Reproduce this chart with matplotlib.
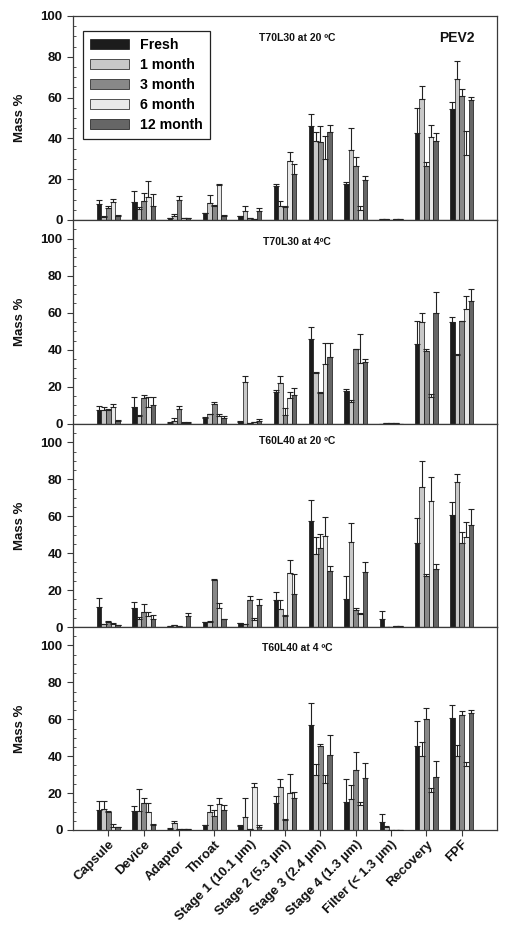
import matplotlib
matplotlib.use("Agg")
import matplotlib.pyplot as plt
from matplotlib.ticker import MultipleLocator
import numpy as np

plt.rcParams['font.family'] = ['Liberation Sans', 'DejaVu Sans']
plt.rcParams['font.weight'] = 'bold'

categories = ["Capsule", "Device", "Adaptor", "Throat", "Stage 1 (10.1 µm)",
              "Stage 2 (5.3 µm)", "Stage 3 (2.4 µm)", "Stage 4 (1.3 µm)",
              "Filter (< 1.3 µm)", "Recovery", "FPF"]
series = ["Fresh", "1 month", "3 month", "6 month", "12 month"]
colors = ["#1c1c1c", "#c8c8c8", "#888888", "#e8e8e8", "#666666"]

panel_titles = ["T70L30 at 20 ºC", "T70L30 at 4ºC", "T60L40 at 20 ºC", "T60L40 at 4 ºC"]

# Panel 1: T70L30 at 20 ºC
p1_mean = [
    [7.7, 9.0, 1.0, 3.3, 1.8, 16.8, 46.1, 17.6, 0.3, 42.5, 54.4],
    [1.6, 5.4, 2.0, 8.2, 4.4, 7.0, 38.9, 34.3, 0.3, 59.3, 69.0],
    [5.7, 9.2, 9.6, 6.9, 0.8, 6.5, 38.4, 26.6, 0.0, 26.6, 60.9],
    [9.0, 11.4, 1.0, 17.3, 0.5, 28.9, 29.7, 4.9, 0.3, 40.8, 31.9],
    [2.2, 6.9, 0.8, 2.0, 4.4, 22.5, 43.3, 19.6, 0.3, 38.9, 58.8],
]
p1_err = [
    [1.9, 5.2, 0.2, 0.3, 0.3, 1.0, 5.9, 1.2, 0.0, 12.5, 3.3],
    [0.2, 0.8, 1.0, 4.1, 2.3, 2.3, 4.4, 11.0, 0.0, 6.5, 9.1],
    [1.0, 4.2, 2.3, 0.3, 0.2, 0.5, 7.8, 4.1, 0.0, 2.0, 3.3],
    [1.5, 7.9, 0.2, 0.3, 0.2, 4.3, 11.6, 2.1, 0.0, 5.8, 11.9],
    [0.3, 6.0, 0.2, 0.5, 1.5, 5.0, 3.3, 2.1, 0.0, 3.6, 1.3],
]

# Panel 2: T70L30 at 4 ºC
p2_mean = [
    [7.5, 9.3, 0.8, 3.2, 1.3, 17.0, 46.1, 17.8, 0.2, 42.9, 54.8],
    [7.5, 4.5, 1.6, 5.2, 22.8, 22.0, 27.3, 12.0, 0.3, 54.8, 37.2],
    [7.5, 14.2, 8.3, 10.6, 0.5, 4.8, 16.9, 40.2, 0.5, 39.5, 55.5],
    [9.2, 9.3, 0.8, 4.1, 1.0, 13.8, 32.1, 32.7, 0.5, 14.7, 61.8],
    [1.8, 10.0, 0.8, 3.2, 1.6, 15.4, 36.3, 33.6, 0.2, 60.1, 66.2],
]
p2_err = [
    [2.2, 5.1, 0.2, 0.4, 0.5, 1.3, 6.1, 1.1, 0.0, 12.6, 3.0],
    [1.5, 0.3, 1.6, 0.2, 3.2, 4.0, 0.9, 0.9, 0.1, 4.8, 0.8],
    [0.5, 1.6, 1.2, 1.2, 0.1, 3.6, 0.3, 0.2, 0.2, 1.1, 0.2],
    [1.6, 5.4, 0.1, 1.4, 0.2, 3.6, 11.7, 15.6, 0.2, 1.5, 7.1],
    [0.5, 4.4, 0.1, 1.1, 1.1, 3.8, 7.5, 1.2, 0.0, 11.2, 6.5],
]

# Panel 3: T60L40 at 20 ºC
p3_mean = [
    [10.8, 10.3, 0.5, 2.5, 2.0, 14.4, 57.5, 15.3, 4.5, 45.6, 60.9],
    [1.5, 4.5, 1.0, 2.9, 1.5, 9.7, 39.3, 45.9, 0.2, 76.0, 78.4],
    [2.9, 7.9, 0.3, 25.6, 14.6, 5.9, 42.9, 9.0, 0.1, 27.4, 45.6],
    [1.6, 6.1, 0.2, 10.5, 3.6, 29.2, 49.2, 7.2, 0.4, 68.5, 48.6],
    [1.0, 4.3, 5.8, 4.3, 11.7, 17.8, 30.1, 29.7, 0.4, 31.2, 55.3],
]
p3_err = [
    [4.9, 3.0, 0.1, 0.4, 0.3, 4.3, 11.3, 12.6, 4.0, 13.5, 6.7],
    [0.2, 0.9, 0.3, 0.3, 0.2, 4.7, 9.3, 10.5, 0.0, 14.1, 4.3],
    [0.5, 4.7, 0.1, 0.2, 2.2, 0.4, 7.6, 1.3, 0.0, 1.4, 5.8],
    [0.4, 1.8, 0.0, 2.7, 1.1, 7.0, 10.4, 0.4, 0.1, 12.9, 8.2],
    [0.3, 2.2, 1.9, 0.2, 3.6, 10.7, 2.7, 5.4, 0.1, 2.7, 8.5],
]

# Panel 4: T60L40 at 4 ºC
p4_mean = [
    [10.8, 10.3, 0.8, 2.5, 2.3, 14.4, 57.1, 15.1, 4.1, 45.6, 60.7],
    [11.4, 10.3, 3.6, 9.7, 7.2, 23.4, 29.7, 16.6, 1.4, 40.0, 40.0],
    [9.9, 14.4, 0.5, 7.7, 0.5, 5.4, 45.6, 32.4, 0.0, 60.0, 62.5],
    [1.8, 9.7, 0.5, 13.9, 23.1, 19.8, 25.6, 13.5, 0.0, 20.7, 34.5],
    [1.4, 2.9, 0.5, 10.6, 1.4, 17.1, 40.9, 28.3, 0.0, 28.8, 63.5],
]
p4_err = [
    [4.9, 2.9, 0.2, 0.2, 0.2, 4.0, 11.7, 12.3, 4.4, 13.5, 6.9],
    [4.3, 12.0, 1.4, 4.0, 9.9, 4.3, 5.8, 7.9, 0.8, 7.7, 6.3],
    [0.4, 3.1, 0.1, 3.1, 0.1, 0.4, 1.2, 9.9, 0.0, 6.3, 2.2],
    [1.6, 4.7, 0.1, 3.4, 2.5, 10.8, 4.1, 1.8, 0.0, 1.8, 2.5],
    [0.4, 0.2, 0.1, 2.7, 1.5, 3.4, 10.5, 8.1, 0.0, 8.7, 1.5],
]

means = [p1_mean, p2_mean, p3_mean, p4_mean]
errs = [p1_err, p2_err, p3_err, p4_err]
ylims = [100, 110, 110, 110]

W, H = 512, 940
fig = plt.figure(figsize=(W / 100, H / 100), dpi=100)

# pixel boxes (top, bottom) of each panel
boxes = [(16, 220), (220, 424), (424, 627), (627, 830)]
ax_left, ax_right = 73, 497
title_y = [0.892, 0.892, 0.916, 0.897]

x = np.arange(1, len(categories) + 1)
bw = 0.13
spine_col = "#3a3a3a"

for i in range(4):
    top, bot = boxes[i]
    ax = fig.add_axes([ax_left / W, 1 - bot / H, (ax_right - ax_left) / W, (bot - top) / H])
    for j, name in enumerate(series):
        xs = x + (j - 2) * bw
        m = np.array(means[i][j])
        e = np.array(errs[i][j])
        ax.bar(xs, m, width=bw, color=colors[j], edgecolor="#111111",
               linewidth=0.5, label=name, zorder=2)
        ax.errorbar(xs, m, yerr=[np.zeros_like(e), e], fmt='none',
                    ecolor="#222222", elinewidth=0.8, capsize=2.2, capthick=0.8, zorder=3)
    ax.set_xlim(0, 12)
    ax.set_ylim(0, ylims[i])
    ax.set_yticks([0, 20, 40, 60, 80, 100])
    ax.yaxis.set_minor_locator(MultipleLocator(5))
    ax.tick_params(axis='y', which='major', direction='out', length=4, width=0.8,
                   labelsize=9.5, colors=spine_col, labelcolor='#111111')
    ax.tick_params(axis='y', which='minor', direction='in', length=2, width=0.6, colors=spine_col)
    for lab in ax.get_yticklabels():
        lab.set_fontweight('bold')
    for s in ax.spines.values():
        s.set_color(spine_col)
        s.set_linewidth(0.9)
    ax.set_ylabel("Mass %", fontsize=9.5, fontweight='bold', color='#111111')
    ax.yaxis.set_label_coords(-0.11, 0.5)
    ax.text(0.528, title_y[i], panel_titles[i], transform=ax.transAxes,
            ha='center', va='center', fontsize=7.5, fontweight='bold', color='#111111')
    if i == 3:
        ax.set_xticks(x)
        ax.set_xticklabels(categories, rotation=45, ha='right', rotation_mode='anchor',
                           fontsize=9.5, fontweight='bold', color='#111111')
        ax.tick_params(axis='x', direction='out', length=4, width=0.8, colors=spine_col,
                       labelcolor='#111111', pad=2)
    else:
        ax.set_xticks([])
    if i == 0:
        ax.text(0.905, title_y[i], "PEV2", transform=ax.transAxes, ha='center', va='center',
                fontsize=10, fontweight='bold', color='#111111')
        leg = ax.legend(loc='upper left', bbox_to_anchor=(0.024, 0.926), borderaxespad=0,
                        fancybox=False, edgecolor='#222222', framealpha=1,
                        prop={'size': 10.2, 'weight': 'bold'}, handlelength=2.7,
                        handleheight=0.65, labelspacing=0.42, handletextpad=0.8,
                        borderpad=0.5)
        leg.get_frame().set_linewidth(0.9)

fig.savefig("out.png", dpi=100)
